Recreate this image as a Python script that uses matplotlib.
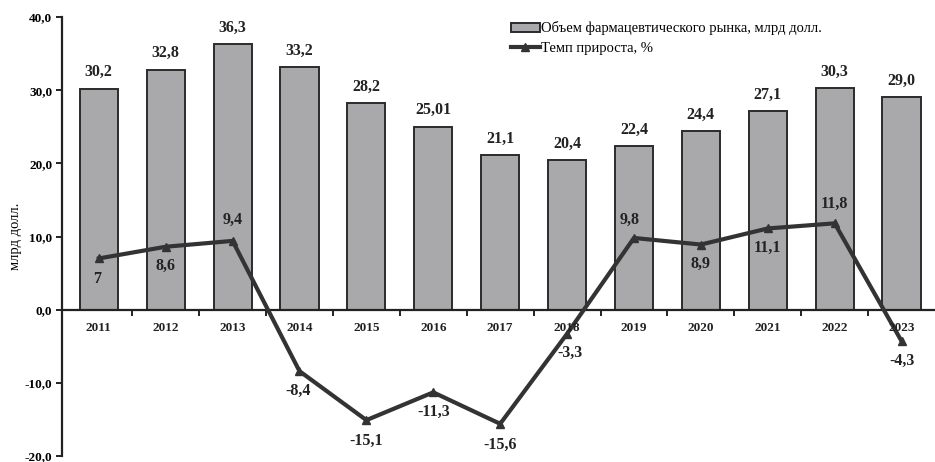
import matplotlib
matplotlib.use("Agg")
import matplotlib.pyplot as plt
from matplotlib.ticker import FuncFormatter, FixedLocator
import numpy as np

years = ["2011", "2012", "2013", "2014", "2015", "2016", "2017",
         "2018", "2019", "2020", "2021", "2022", "2023"]
market = [30.2, 32.8, 36.3, 33.2, 28.2, 25.01, 21.1, 20.4, 22.4, 24.4, 27.1, 30.3, 29.0]
market_labels = ["30,2", "32,8", "36,3", "33,2", "28,2", "25,01", "21,1",
                 "20,4", "22,4", "24,4", "27,1", "30,3", "29,0"]
growth = [7, 8.6, 9.4, -8.4, -15.1, -11.3, -15.6, -3.3, 9.8, 8.9, 11.1, 11.8, -4.3]
growth_labels = ["7", "8,6", "9,4", "-8,4", "-15,1", "-11,3", "-15,6",
                 "-3,3", "9,8", "8,9", "11,1", "11,8", "-4,3"]

# label offsets for the growth line, in points (dx, dy)
growth_offsets = [(-1, -15), (0, -14), (0, 15), (-1, -14), (0, -15), (0, -14),
                  (0, -15), (2, -14), (-3, 13), (0, -14), (0, -14), (0, 14), (0, -14)]

plt.rcParams["font.family"] = ["Liberation Serif", "DejaVu Serif"]

fig = plt.figure(figsize=(9.35, 4.62), dpi=100)
ax = fig.add_axes([62 / 935, 6 / 462, 1 - 62 / 935, 439 / 462])

x = np.arange(len(years))
bars = ax.bar(x, market, width=0.57, color="#a9a9ab", edgecolor="#2b2b2b", linewidth=1.4,
              label="Объем фармацевтического рынка, млрд долл.", zorder=2)
line, = ax.plot(x, growth, color="#333333", linewidth=3, marker="^", markersize=6,
                label="Темп прироста, %", zorder=3)

for xi, v, t in zip(x, market, market_labels):
    ax.annotate(t, (xi, v), xytext=(0, 6), textcoords="offset points",
                ha="center", va="bottom", fontsize=11.5, fontweight="bold", color="#222222")

for xi, v, t, off in zip(x, growth, growth_labels, growth_offsets):
    ax.annotate(t, (xi, v), xytext=off, textcoords="offset points",
                ha="center", va="center", fontsize=11.5, fontweight="bold", color="#222222")

ax.set_ylim(-20, 40)
ax.set_xlim(-0.55, 12.5)
ax.yaxis.set_major_locator(FixedLocator([-20, -10, 0, 10, 20, 30, 40]))
ax.yaxis.set_major_formatter(FuncFormatter(lambda v, p: f"{v:.1f}".replace(".", ",")))
ax.set_ylabel("млрд долл.", fontsize=10.5, labelpad=2)

for s in ["top", "right"]:
    ax.spines[s].set_visible(False)
ax.spines["left"].set_linewidth(1.6)
ax.spines["left"].set_color("#222222")
ax.spines["bottom"].set_position(("data", 0))
ax.spines["bottom"].set_linewidth(1.6)
ax.spines["bottom"].set_color("#222222")

# category names under the zero line, ticks at boundaries
ax.set_xticks(x[:-1] + 0.5)
ax.set_xticklabels([])
ax.tick_params(axis="x", direction="out", length=4, width=1.4, color="#222222")
for xi, yr in zip(x, years):
    ax.annotate(yr, (xi, 0), xytext=(0, -13), textcoords="offset points",
                ha="center", va="center", fontsize=9.5, fontweight="bold", color="#222222")

ax.tick_params(axis="y", direction="out", length=4, width=1.4, color="#222222",
               labelsize=9.5, pad=3)
for lab in ax.get_yticklabels():
    lab.set_fontweight("bold")

leg = ax.legend([bars, line], [bars.get_label(), line.get_label()],
                loc="upper left", bbox_to_anchor=(0.499, 1.02), frameon=False,
                fontsize=10.5, handlelength=2.0, handleheight=0.6,
                handletextpad=0.1, labelspacing=0.45)

fig.savefig("out.png", dpi=100)
